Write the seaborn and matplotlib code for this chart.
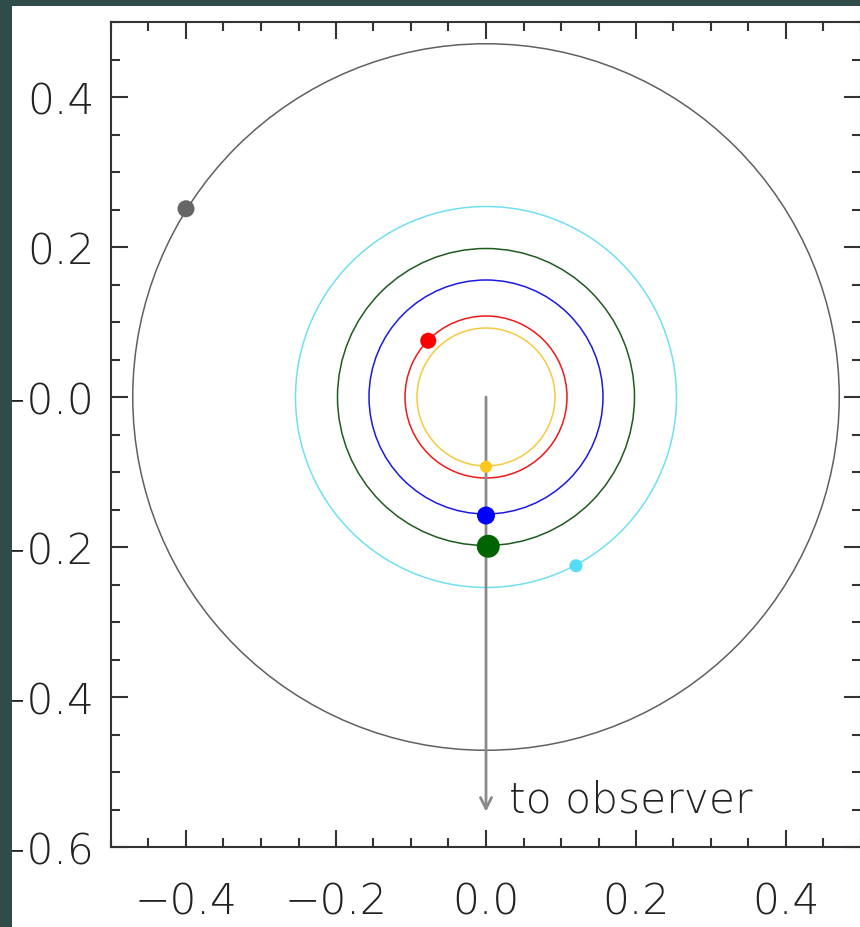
import matplotlib
matplotlib.use("Agg")
import matplotlib.pyplot as plt
from matplotlib.patches import Circle, Rectangle
from matplotlib.ticker import MultipleLocator
import seaborn as sns
import pandas as pd

# ---- data ----
planets = ["b", "c", "d", "e", "f", "g"]
orbit_radius = [0.092, 0.108, 0.156, 0.198, 0.254, 0.471]
planet_x = [0.0, -0.077, 0.0, 0.003, 0.120, -0.400]
planet_y = [-0.093, 0.075, -0.158, -0.199, -0.225, 0.251]
planet_size = [75, 133, 168, 274, 88, 150]
orbit_colors = ["#f7c940", "#f01818", "#1a1ae0", "#1f5a1f", "#6fe0f2", "#606060"]
dot_colors = ["#ffc81a", "#ff0000", "#0000ff", "#006400", "#55dcf8", "#666666"]
xtick_vals = [-0.4, -0.2, 0.0, 0.2, 0.4]
xtick_labels = ["\u22120.4", "\u22120.2", "0.0", "0.2", "0.4"]
ytick_vals = [-0.6, -0.4, -0.2, 0.0, 0.2, 0.4]
ytick_labels = ["\u22120.6", "\u22120.4", "\u22120.2", "\u22120.0", "0.2", "0.4"]
arrow_start = (0.0, 0.0)
arrow_end = (0.0, -0.553)
arrow_text = "to observer"

sns.set_style("ticks")
plt.rcParams["font.family"] = ["DejaVu Sans"]

FS = 30.5
FW = "light"
W, H = 860, 928
fig = plt.figure(figsize=(W / 100, H / 100), dpi=100, facecolor="white")
ax = fig.add_axes([111 / W, 80 / H, 750 / W, 825 / H])
ax.set_facecolor("white")

df = pd.DataFrame({"planet": planets, "x": planet_x, "y": planet_y,
                   "size": planet_size})

for r, c in zip(orbit_radius, orbit_colors):
    ax.add_patch(Circle((0, 0), r, fill=False, edgecolor=c, lw=1.1, zorder=2))

ax.annotate("", xy=arrow_end, xytext=arrow_start,
            arrowprops=dict(arrowstyle="->", color="#8a8a8a", lw=2.0,
                            mutation_scale=20, shrinkA=0, shrinkB=0),
            zorder=3)
ax.text(arrow_end[0] + 0.031, arrow_end[1], arrow_text, fontsize=FS,
        fontweight=FW, color="#222222", ha="left", va="baseline")

sns.scatterplot(data=df, x="x", y="y", hue="planet", size="planet",
                sizes=dict(zip(planets, planet_size)),
                palette=dict(zip(planets, dot_colors)),
                edgecolor="none", linewidth=0, legend=False, ax=ax, zorder=4)

ax.set_xlim(-0.5, 0.5)
ax.set_ylim(-0.6, 0.5)
ax.set_aspect("auto")
ax.set_xlabel("")
ax.set_ylabel("")
ax.set_xticks(xtick_vals, xtick_labels)
ax.set_yticks(ytick_vals, ytick_labels)
ax.xaxis.set_minor_locator(MultipleLocator(0.05))
ax.yaxis.set_minor_locator(MultipleLocator(0.05))
ax.tick_params(which="both", direction="in", top=True, right=True,
               color="#333333", width=1.5)
ax.tick_params(which="major", length=12.5)
ax.tick_params(which="minor", length=6.5)
ax.tick_params(axis="x", which="major", pad=24, labelsize=FS, labelcolor="#222222")
ax.tick_params(axis="y", which="major", pad=12, labelsize=FS, labelcolor="#222222")
for lab in ax.get_xticklabels() + ax.get_yticklabels():
    lab.set_fontweight(FW)
for s in ax.spines.values():
    s.set_color("#333333")
    s.set_linewidth(1.5)

teal = "#2f4b4a"
fig.patches.append(Rectangle((0, 0), 12 / W, 1, transform=fig.transFigure,
                             facecolor=teal, edgecolor="none", zorder=10))
fig.patches.append(Rectangle((0, 1 - 7 / H), 1, 7 / H, transform=fig.transFigure,
                             facecolor=teal, edgecolor="none", zorder=10))

fig.savefig("out.png", dpi=100, facecolor="white")
